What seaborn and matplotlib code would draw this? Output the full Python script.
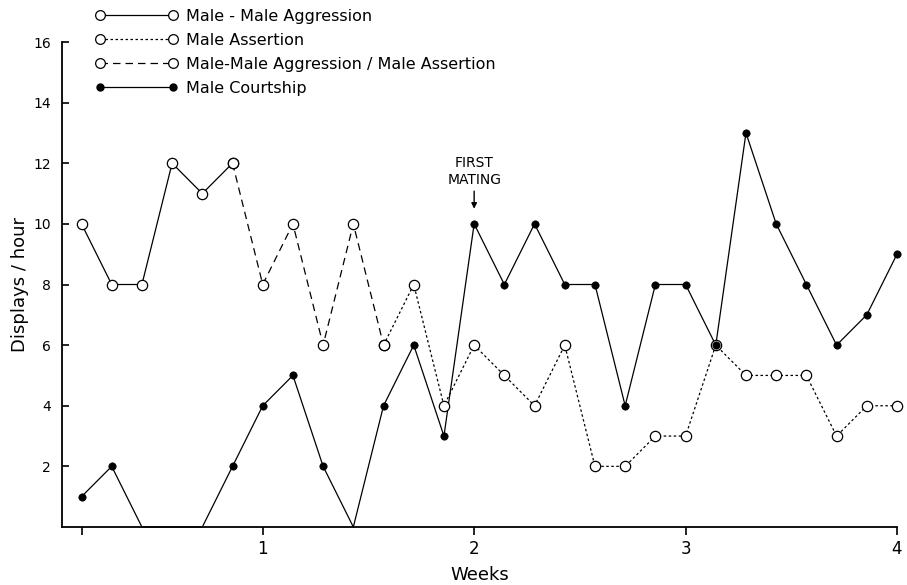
import matplotlib
matplotlib.use("Agg")
import matplotlib.pyplot as plt
from matplotlib.lines import Line2D
import numpy as np
import pandas as pd
import seaborn as sns

# Daily observations, 7 per week
aggression_days = [1, 2, 3, 4, 5, 6]
aggression = [10, 8, 8, 12, 11, 12]

mixed_days = [6, 7, 8, 9, 10, 11]
mixed = [12, 8, 10, 6, 10, 6]

assertion_days = list(range(11, 29))
assertion = [6, 8, 4, 6, 5, 4, 6, 2, 2, 3, 3, 6, 5, 5, 5, 3, 4, 4]

courtship_days = list(range(1, 29))
courtship = [1, 2, 0, 0, 0, 2, 4, 5, 2, 0, 4, 6, 3, 10,
             8, 10, 8, 8, 4, 8, 8, 6, 13, 10, 8, 6, 7, 9]

week_ticks = [1 / 7, 1, 2, 3, 4]
week_labels = ["", "1", "2", "3", "4"]
y_ticks = [2, 4, 6, 8, 10, 12, 14, 16]

series_labels = ["Male - Male Aggression", "Male Assertion",
                 "Male-Male Aggression / Male Assertion", "Male Courtship"]
first_mating_week = 2

sns.set_style("white")
plt.rcParams["font.family"] = ["DejaVu Sans"]
plt.rcParams["text.color"] = "black"

fig = plt.figure(figsize=(9.07, 5.85), dpi=100)
ax = fig.add_axes([62 / 907, 1 - 527 / 585, 835 / 907, 485 / 585])

LW = 0.9
solid = "-"
dotted = (0, (2, 2))
dashed = (0, (6, 4))

def frame(days, values):
    return pd.DataFrame({"week": np.asarray(days) / 7, "rate": values})

open_series = [
    (frame(aggression_days, aggression), solid),
    (frame(mixed_days, mixed), dashed),
    (frame(assertion_days, assertion), dotted),
]
court = frame(courtship_days, courtship)

for df, ls in open_series:
    sns.lineplot(data=df, x="week", y="rate", ax=ax, color="black", lw=LW,
                 linestyle=ls, sort=False, estimator=None, zorder=2,
                 clip_on=False)
sns.lineplot(data=court, x="week", y="rate", ax=ax, color="black", lw=LW,
             sort=False, estimator=None, zorder=2, clip_on=False)

for df, _ in open_series:
    sns.scatterplot(data=df, x="week", y="rate", ax=ax, marker="o", s=55,
                    facecolor="white", edgecolor="black", linewidth=0.9,
                    zorder=3, clip_on=False)
# zero counts sit on the axis without a marker
court_pts = court[court["rate"] > 0]
sns.scatterplot(data=court_pts, x="week", y="rate", ax=ax, marker="o", s=28,
                color="black", edgecolor="black", linewidth=0.5, zorder=4,
                clip_on=False)

ax.set_xlim(0.0506, 4.0)
ax.set_ylim(0, 16)
ax.set_xticks(week_ticks)
ax.set_xticklabels(week_labels)
ax.set_yticks(y_ticks)
ax.set_yticklabels([str(v) for v in y_ticks])

for side in ("top", "right"):
    ax.spines[side].set_visible(False)
for side in ("left", "bottom"):
    ax.spines[side].set_color("black")
    ax.spines[side].set_linewidth(1.3)

ax.tick_params(axis="y", direction="in", length=5, width=1.2, pad=8,
               labelsize=10, colors="black", left=True)
ax.tick_params(axis="x", direction="out", length=6, width=1.2, pad=3,
               labelsize=12, colors="black", bottom=True)

ax.set_xlabel("Weeks", fontsize=13, labelpad=6, color="black")
ax.set_ylabel("Displays / hour", fontsize=13, labelpad=3, color="black")

# first mating marker
ax.text(first_mating_week, 11.73, "FIRST\nMATING", ha="center", va="center",
        fontsize=10, linespacing=1.25, color="black")
ax.annotate("", xy=(first_mating_week, 10.5), xytext=(first_mating_week, 11.08),
            arrowprops=dict(arrowstyle="-|>", color="black", lw=1.0,
                            mutation_scale=8, shrinkA=0, shrinkB=0))

handles = [
    Line2D([], [], color="black", lw=LW, ls=solid, marker="o", markersize=7,
           mfc="white", mec="black", mew=0.9),
    Line2D([], [], color="black", lw=LW, ls=dotted, marker="o", markersize=7,
           mfc="white", mec="black", mew=0.9),
    Line2D([], [], color="black", lw=LW, ls=dashed, marker="o", markersize=7,
           mfc="white", mec="black", mew=0.9),
    Line2D([], [], color="black", lw=LW, ls=solid, marker="o", markersize=5,
           mfc="black", mec="black"),
]
leg = fig.legend(handles, series_labels, loc="upper left",
                 bbox_to_anchor=(95 / 907, 1 - 9 / 585), frameon=False,
                 borderpad=0, borderaxespad=0, numpoints=2, fontsize=11.5,
                 handlelength=5.16, handletextpad=0.56, labelspacing=0.56)
for t in leg.get_texts():
    t.set_color("black")

fig.savefig("out.png", dpi=100, facecolor="white")
